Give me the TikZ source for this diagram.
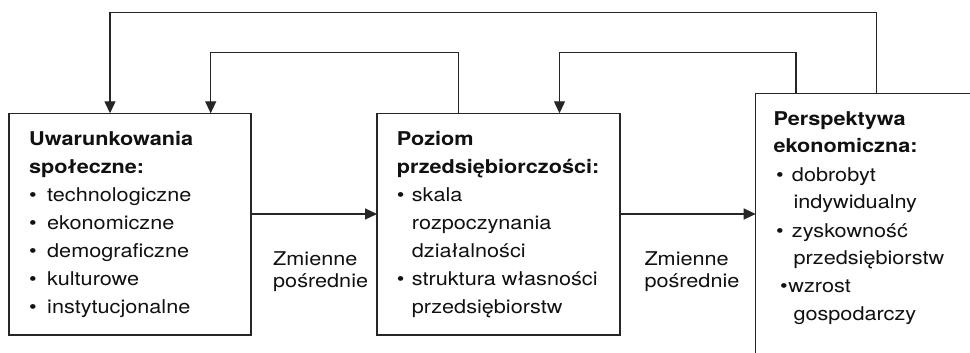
\documentclass[tikz,border=0pt]{standalone}
\usepackage{fontspec}
\setmainfont{TeX Gyre Heros}[FakeStretch=1.14]
\usetikzlibrary{arrows.meta}
\definecolor{linec}{HTML}{262626}
\definecolor{textc}{HTML}{111111}
\newcommand\bulA{\makebox[18pt][l]{\textbullet}}
\newcommand\bulB{\makebox[15pt][l]{\textbullet}}
\begin{document}
\begin{tikzpicture}[x=1pt,y=-1pt,
  box/.style={draw=linec, line width=1.3pt, inner sep=0pt, outer sep=0pt, anchor=north west},
  arr/.style={draw=linec, line width=1.2pt, -{Triangle[length=12pt,width=11pt]}},
  txt/.style={inner sep=0pt, anchor=base west, text=textc, font=\fontsize{19}{28}\selectfont},
  lbl/.style={inner sep=0pt, anchor=base west, text=textc, font=\fontsize{19}{22}\selectfont}]
\useasboundingbox (0,0) rectangle (970,353);
\fill[white] (0,0) rectangle (970,353);
% boxes
\node[box, minimum width=242pt, minimum height=221.7pt] (b1) at (9,113.3) {};
\node[box, minimum width=243pt, minimum height=221.7pt] (b2) at (377,113.3) {};
\begin{scope}
  \clip (0,0) rectangle (970,353);
  \node[box, minimum width=300pt, minimum height=300pt] (b3) at (755.7,93.3) {};
\end{scope}
% texts
\node[txt] (t1) at (29,145.5) {\begin{tabular}[t]{@{}l@{}}
  \bfseries Uwarunkowania\\
  \bfseries społeczne:\\
  \bulA technologiczne\\
  \bulA ekonomiczne\\
  \bulA demograficzne\\
  \bulA kulturowe\\
  \bulA instytucjonalne
\end{tabular}};
\node[txt] (t2) at (396.7,145.5) {\begin{tabular}[t]{@{}l@{}}
  \bfseries Poziom\\
  \bfseries przedsiębiorczości:\\
  \bulB skala\\
  \hspace*{15pt}rozpoczynania\\
  \hspace*{15pt}działalności\\
  \bulB struktura własności\\
  \hspace*{15pt}przedsiębiorstw
\end{tabular}};
\node[txt] (t3) at (773.3,125) {\begin{tabular}[t]{@{}l@{}}
  \bfseries Perspektywa\\
  \bfseries ekonomiczna:\\
  \hspace*{2.5pt}\makebox[16pt][l]{\textbullet}dobrobyt\\
  \hspace*{20pt}indywidualny\\
  \hspace*{2.5pt}\makebox[16pt][l]{\textbullet}zyskowność\\
  \hspace*{20pt}przedsiębiorstw\\
  \hspace*{6.5pt}\makebox[8.5pt][l]{\textbullet}wzrost\\
  \hspace*{20pt}gospodarczy
\end{tabular}};
\node[lbl] (z1) at (273,265) {\begin{tabular}[t]{@{}l@{}}Zmienne\\pośrednie\end{tabular}};
\node[lbl] (z2) at (644.3,265) {\begin{tabular}[t]{@{}l@{}}Zmienne\\pośrednie\end{tabular}};
% forward arrows
\draw[arr] (b1.east |- 0,214) -- (b2.west |- 0,214);
\draw[arr] (b2.east |- 0,214) -- (b3.west |- 0,214);
% feedback loops
\draw[arr] (b2.north -| 458.5,0) -- (458.5,52.7) -| (b1.north -| 210.7,0);
\draw[arr] (b3.north -| 796,0) -- (796,52.7) -| (b2.north -| 559.5,0);
\draw[arr] (b3.north -| 876.7,0) -- (876.7,12.7) -| (b1.north -| 110,0);
\end{tikzpicture}
\end{document}
